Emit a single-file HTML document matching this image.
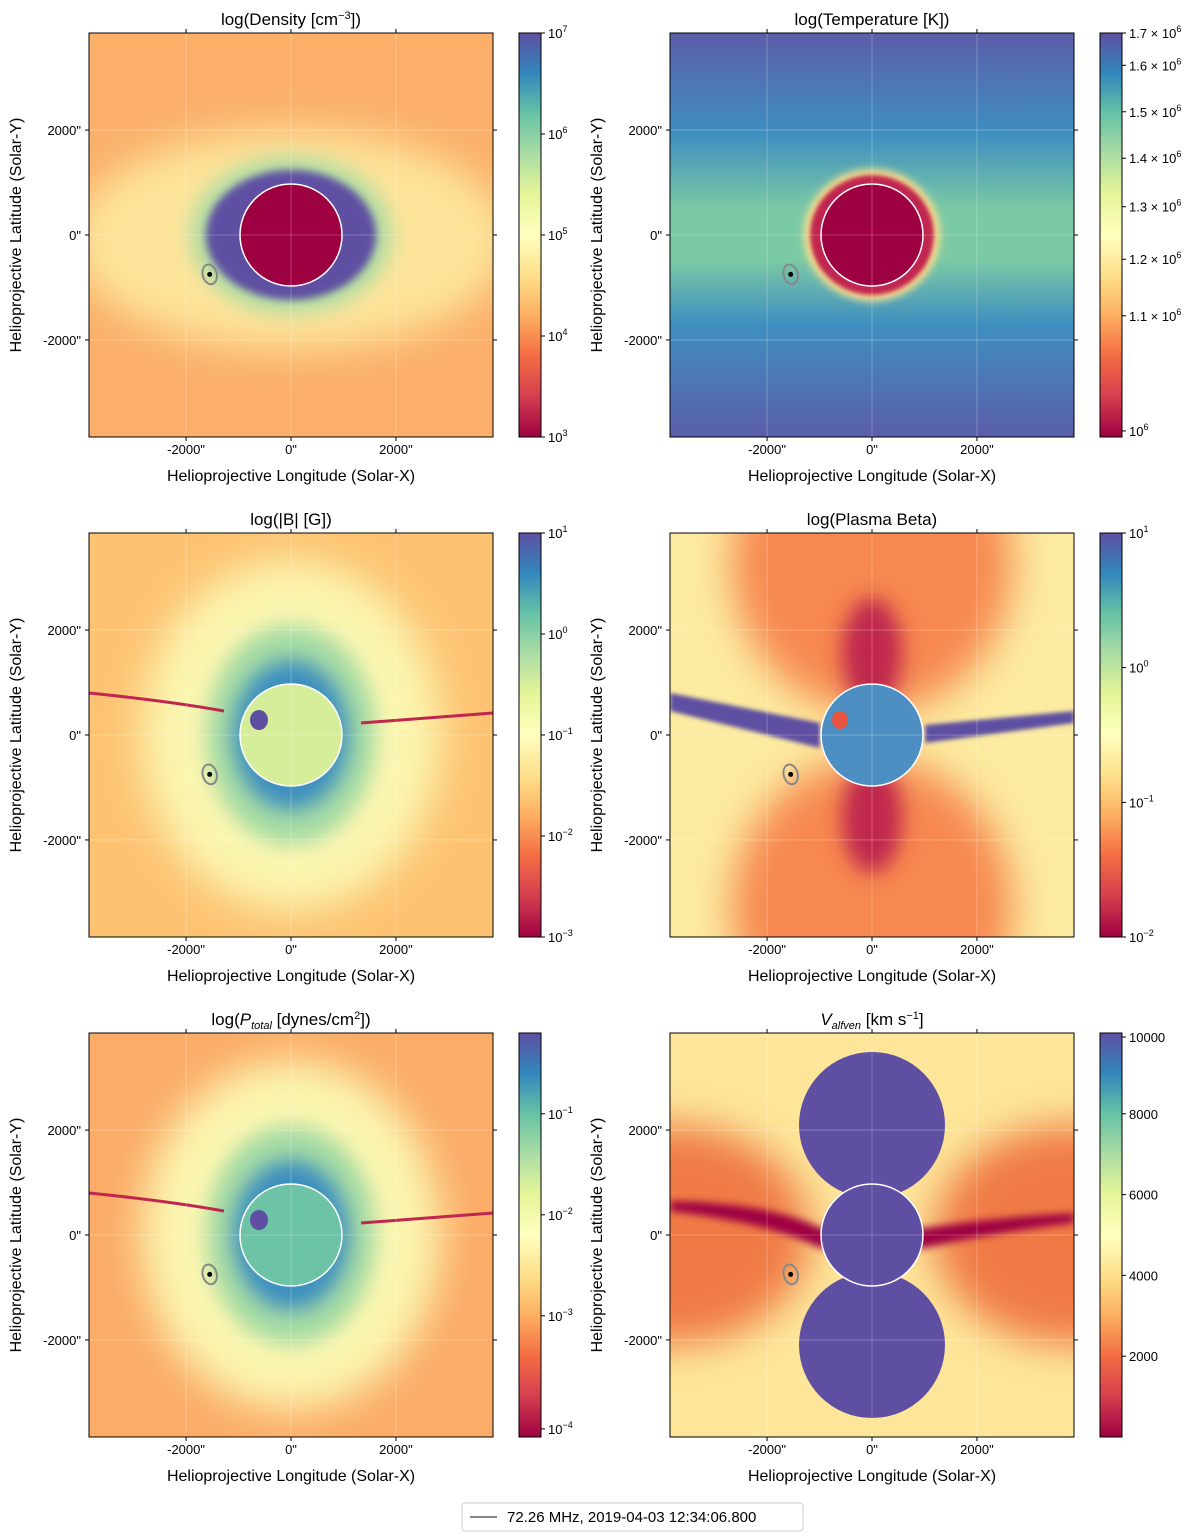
<!DOCTYPE html>
<html><head><meta charset="utf-8"><style>
body{margin:0;background:#fff;}
svg{display:block;font-family:"Liberation Sans","DejaVu Sans",sans-serif;}
</style></head><body>
<svg id="fig" width="1200" height="1540" viewBox="0 0 1200 1540" xmlns="http://www.w3.org/2000/svg">
<defs>
<linearGradient id="spec" x1="0" y1="1" x2="0" y2="0">
<stop offset="0" stop-color="#9e0142"/><stop offset="0.1" stop-color="#d53e4f"/><stop offset="0.2" stop-color="#f46d43"/><stop offset="0.3" stop-color="#fdae61"/><stop offset="0.4" stop-color="#fee08b"/><stop offset="0.5" stop-color="#ffffbf"/><stop offset="0.6" stop-color="#e6f598"/><stop offset="0.7" stop-color="#abdda4"/><stop offset="0.8" stop-color="#66c2a5"/><stop offset="0.9" stop-color="#3288bd"/><stop offset="1" stop-color="#5e4fa2"/>
</linearGradient>
<filter id="b20" x="-50%" y="-50%" width="200%" height="200%"><feGaussianBlur stdDeviation="20"/></filter>
<filter id="b10" x="-50%" y="-50%" width="200%" height="200%"><feGaussianBlur stdDeviation="10"/></filter>
<filter id="b4" x="-50%" y="-50%" width="200%" height="200%"><feGaussianBlur stdDeviation="4"/></filter>
<filter id="b2" x="-50%" y="-50%" width="200%" height="200%"><feGaussianBlur stdDeviation="2"/></filter>
<linearGradient id="tempbg" x1="0" y1="0" x2="0" y2="1">
<stop offset="0" stop-color="#5b5ea9"/><stop offset="0.25" stop-color="#3f8fc0"/><stop offset="0.44" stop-color="#7ccaa5"/><stop offset="0.56" stop-color="#7ccaa5"/><stop offset="0.72" stop-color="#3f8fc0"/><stop offset="1" stop-color="#5b5ea9"/>
</linearGradient>
</defs>
</svg>
<script>
const xTicks=[-2000,0,2000];
const yTicks=[2000,0,-2000];
const titles=["log(Density [cm⁻³])","log(Temperature [K])","log(|B| [G])","log(Plasma Beta)","log(P_total [dynes/cm²])","V_alfven [km s⁻¹]"];
const cbTicks=[
 [["10","7"],["10","6"],["10","5"],["10","4"],["10","3"]],
 [["1.7 × 10","6"],["1.6 × 10","6"],["1.5 × 10","6"],["1.4 × 10","6"],["1.3 × 10","6"],["1.2 × 10","6"],["1.1 × 10","6"],["10","6"]],
 [["10","1"],["10","0"],["10","−1"],["10","−2"],["10","−3"]],
 [["10","1"],["10","0"],["10","−1"],["10","−2"]],
 [["10","−1"],["10","−2"],["10","−3"],["10","−4"]],
 [["10000",""],["8000",""],["6000",""],["4000",""],["2000",""]]
];
const cbFrac=[
 [0,0.25,0.5,0.75,1],
 [0,0.08,0.195,0.31,0.43,0.56,0.7,0.985],
 [0,0.25,0.5,0.75,1],
 [0,0.333,0.667,1],
 [0.2,0.45,0.7,0.98],
 [0.01,0.2,0.4,0.6,0.8]
];
const NS="http://www.w3.org/2000/svg";
const svg=document.getElementById('fig');
function el(t,a,p){const e=document.createElementNS(NS,t);for(const k in a)e.setAttribute(k,a[k]);(p||svg).appendChild(e);return e;}
const W=404,H=404,ext=3850;
function sx(v){return W/2+v/ext*W/2;}
function sy(v){return H/2-v/ext*H/2;}
const C=[W/2,H/2],R=51;
function content(i,g){
 const cx=C[0],cy=C[1];
 if(i==0){
  el('rect',{x:0,y:0,width:W,height:H,fill:'#fbaf69'},g);
  el('ellipse',{cx,cy:cy+5,rx:220,ry:110,fill:'#fde49a',filter:'url(#b20)'},g);
  el('ellipse',{cx,cy,rx:100,ry:78,fill:'#abdda4',filter:'url(#b10)'},g);
  el('ellipse',{cx,cy,rx:85,ry:65,fill:'#5e4fa2',filter:'url(#b4)'},g);
  el('circle',{cx,cy,r:R,fill:'#9e0142',stroke:'#fff','stroke-width':1.5},g);
 }else if(i==1){
  el('rect',{x:0,y:0,width:W,height:H,fill:'url(#tempbg)'},g);
  el('ellipse',{cx,cy,rx:68,ry:66,fill:'#fee08b',filter:'url(#b4)'},g);
  el('ellipse',{cx,cy,rx:62,ry:60,fill:'#c02650',filter:'url(#b2)'},g);
  el('circle',{cx,cy,r:R,fill:'#9e0142',stroke:'#fff','stroke-width':1.5},g);
 }else if(i==2||i==4){
  el('rect',{x:0,y:0,width:W,height:H,fill:i==2?'#fdc372':'#fbac67'},g);
  el('ellipse',{cx,cy,rx:150,ry:175,fill:'#fbf6b0',filter:'url(#b20)'},g);
  el('ellipse',{cx,cy,rx:85,ry:110,fill:'#a5dba4',filter:'url(#b10)'},g);
  el('ellipse',{cx,cy,rx:58,ry:75,fill:'#3d8fbf',filter:'url(#b10)'},g);
  el('path',{d:'M0 160 Q80 168 135 178',stroke:'#c0264e','stroke-width':3,fill:'none'},g);
  el('path',{d:'M272 190 Q340 185 404 180',stroke:'#c0264e','stroke-width':3,fill:'none'},g);
  el('circle',{cx,cy,r:R,fill:i==2?'#d6ee9a':'#6cc3a5',stroke:'#fff','stroke-width':1.5},g);
  el('ellipse',{cx:cx-32,cy:cy-15,rx:9,ry:10,fill:'#5e4fa2'},g);
 }else if(i==3){
  el('rect',{x:0,y:0,width:W,height:H,fill:'#fcebA0'},g);
  el('ellipse',{cx,cy:30,rx:140,ry:150,fill:'#f78850',filter:'url(#b20)'},g);
  el('ellipse',{cx,cy:375,rx:140,ry:150,fill:'#f78850',filter:'url(#b20)'},g);
  el('ellipse',{cx,cy:120,rx:30,ry:55,fill:'#c0264e',filter:'url(#b10)'},g);
  el('ellipse',{cx,cy:285,rx:30,ry:55,fill:'#c0264e',filter:'url(#b10)'},g);
  el('path',{d:'M0 160 L150 190 L150 215 L0 178 Z M404 178 L255 192 L255 210 L404 190 Z',fill:'#5e4fa2',filter:'url(#b2)'},g);
  el('circle',{cx,cy,r:R,fill:'#4d8fc3',stroke:'#fff','stroke-width':1.5},g);
  el('ellipse',{cx:cx-32,cy:cy-15,rx:8,ry:9,fill:'#e8543f'},g);
 }else{
  el('rect',{x:0,y:0,width:W,height:H,fill:'#fde69a'},g);
  el('ellipse',{cx:0,cy,rx:140,ry:110,fill:'#f07a45',filter:'url(#b20)'},g);
  el('ellipse',{cx:W,cy,rx:140,ry:110,fill:'#f07a45',filter:'url(#b20)'},g);
  el('path',{d:'M0 168 Q100 170 150 195 L255 195 Q320 185 404 180 L404 190 Q320 200 255 215 L150 215 Q100 190 0 178 Z',fill:'#9e0142',filter:'url(#b4)'},g);
  el('circle',{cx,cy:92,r:73,fill:'#5e4fa2'},g);
  el('circle',{cx,cy:312,r:73,fill:'#5e4fa2'},g);
  el('circle',{cx,cy,r:R,fill:'#5e4fa2',stroke:'#fff','stroke-width':1.5},g);
 }
}
function titleText(i,t){
 if(i==4){t.innerHTML='log(<tspan font-style="italic">P</tspan><tspan font-style="italic" font-size="11" dy="4">total</tspan><tspan dy="-4"> [dynes/cm</tspan><tspan font-size="11" dy="-6">2</tspan><tspan dy="6">])</tspan>';}
 else if(i==5){t.innerHTML='<tspan font-style="italic">V</tspan><tspan font-style="italic" font-size="11" dy="4">alfven</tspan><tspan dy="-4"> [km s</tspan><tspan font-size="11" dy="-6">−1</tspan><tspan dy="6">]</tspan>';}
 else if(i==0){t.innerHTML='log(Density [cm<tspan font-size="11" dy="-6">−3</tspan><tspan dy="6">])</tspan>';}
 else t.textContent=titles[i];
}
for(let i=0;i<6;i++){
 const col=i%2,row=Math.floor(i/2);
 const ox=col?670:89, oy=33+row*500;
 const g=el('g',{transform:`translate(${ox},${oy})`});
 
 
 const clip=el('clipPath',{id:'cl'+i},svg.querySelector('defs'));
 el('rect',{x:0,y:0,width:W,height:H},clip);
 const ig=el('g',{'clip-path':`url(#cl${i})`},g);
 
 
 content(i,ig);
 xTicks.forEach(v=>{const l=el('line',{x1:sx(v),x2:sx(v),y1:0,y2:H,stroke:'#fff','stroke-opacity':0.3,'stroke-width':0.8},g);});
 yTicks.forEach(v=>{const l=el('line',{x1:0,x2:W,y1:sy(v),y2:sy(v),stroke:'#fff','stroke-opacity':0.3,'stroke-width':0.8},g);});
 const mx=sx(-1550),my=sy(-750);
 const ell=el('ellipse',{cx:mx,cy:my,rx:7,ry:10,fill:'none',stroke:'#888','stroke-width':2,transform:`rotate(-15 ${mx} ${my})`},g);
 
 
 el('circle',{cx:mx,cy:my,r:2.5,fill:'#000'},g);
 el('rect',{x:0,y:0,width:W,height:H,fill:'none',stroke:'#000','stroke-width':1},g);
 xTicks.forEach(v=>{
  el('line',{x1:sx(v),x2:sx(v),y1:H,y2:H+4,stroke:'#000'},g);
  el('line',{x1:sx(v),x2:sx(v),y1:0,y2:-4,stroke:'#000'},g);
  const t=el('text',{x:sx(v),y:H+17,'font-size':13,'text-anchor':'middle'},g);t.textContent=v+'"';
  
 });
 yTicks.forEach(v=>{
  el('line',{x1:-4,x2:0,y1:sy(v),y2:sy(v),stroke:'#000'},g);
  el('line',{x1:W,x2:W+4,y1:sy(v),y2:sy(v),stroke:'#000'},g);
  const t=el('text',{x:-8,y:sy(v)+5,'font-size':13,'text-anchor':'end'},g);t.textContent=v+'"';
  
 });
 const tt=el('text',{x:W/2,y:-8,'font-size':17,'text-anchor':'middle'},g);titleText(i,tt);
 
 const xl=el('text',{x:W/2,y:H+44,'font-size':16,'text-anchor':'middle'},g);xl.textContent='Helioprojective Longitude (Solar-X)';
 
 const yl=el('text',{x:0,y:0,'font-size':16,'text-anchor':'middle',transform:`translate(${-68},${H/2}) rotate(-90)`},g);yl.textContent='Helioprojective Latitude (Solar-Y)';
 
 const cb=el('g',{transform:`translate(430,0)`},g);
 
 el('rect',{x:0,y:0,width:22,height:H,fill:'url(#spec)',stroke:'#000','stroke-width':1},cb);
 cbTicks[i].forEach((tk,j)=>{
  const y=cbFrac[i][j]*H;
  el('line',{x1:22,x2:26,y1:y,y2:y,stroke:'#000'},cb);
  const t=el('text',{x:29,y:y+5,'font-size':13},cb);
  t.innerHTML=tk[0]+(tk[1]?`<tspan font-size="9" dy="-6">${tk[1]}</tspan>`:'');
  
 });
}
const lg=el('g',{});

el('rect',{x:462,y:1503,width:341,height:28,rx:3,fill:'#fff',stroke:'#ccc'},lg);
el('line',{x1:470,x2:497,y1:1517,y2:1517,stroke:'#888','stroke-width':2},lg);
const lt=el('text',{x:507,y:1522,'font-size':15},lg);lt.textContent='72.26 MHz, 2019-04-03 12:34:06.800';

</script>
</body></html>
